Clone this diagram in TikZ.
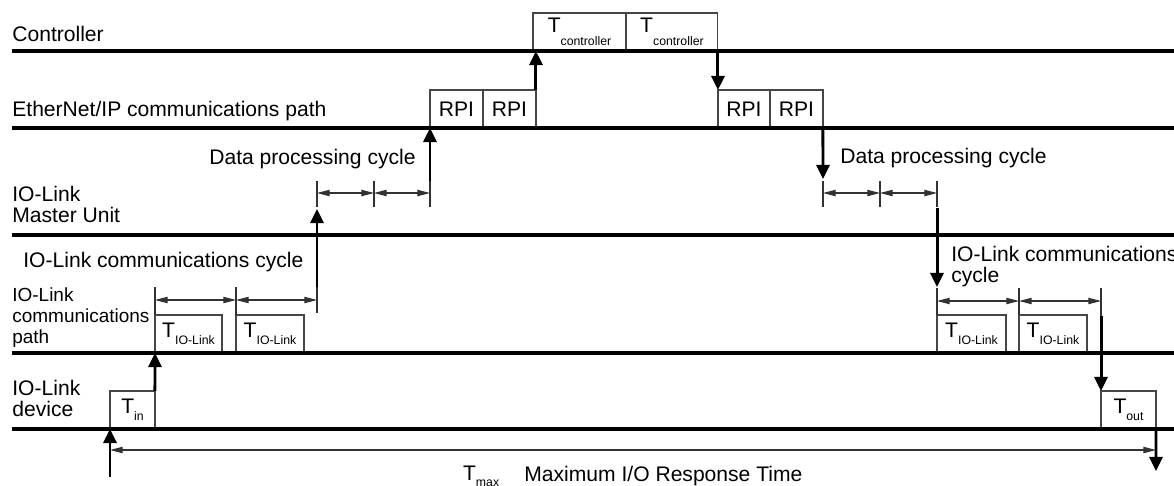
\documentclass[tikz,border=0pt]{standalone}
\usepackage{fontspec}
\setmainfont{Liberation Sans}
\usetikzlibrary{arrows.meta, positioning, calc}
\definecolor{laneBlack}{RGB}{0, 0, 0}
\definecolor{boxGray}{RGB}{70, 70, 70}
\definecolor{tickGray}{RGB}{50, 50, 50}
\newcommand{\Tsub}[2][3.8pt]{T\raisebox{-#1}{\fontsize{7}{8}\selectfont #2}}
\tikzset{
  lane/.style={
    line width=1.8pt, color=laneBlack
  },
  lanelabel/.style={
    anchor=base west, inner sep=0pt,
    align=left, font=\fontsize{12}{11.8}\selectfont
  },
  slot/.style={
    rectangle, draw=boxGray, line width=0.6pt,
    minimum height=0.76cm, inner sep=0pt, outer sep=0pt,
    anchor=south west, font=\fontsize{12}{14}\selectfont
  },
  flow/.style={
    -{Triangle[length=8pt,width=7.4pt]},
    line width=1.7pt
  },
  span/.style={
    {Triangle[length=7.2pt,width=3.6pt]}-{Triangle[length=7.2pt,width=3.6pt]},
    line width=0.6pt, color=tickGray
  },
  tick/.style={
    line width=0.6pt, color=tickGray
  }
}

\begin{document}
\begin{tikzpicture}[x=0.02cm, y=-0.02cm]
  \useasboundingbox (0,0) rectangle (1174,485);

  % ── Lane labels (base = last line) ────────────────────────────────────────
  \node[lanelabel] (labCtrl) at (12,41.7) {Controller};
  \node[lanelabel] (labEip) at (12,116) {EtherNet/IP communications path};
  \node[lanelabel] (labMaster) at (12,222.7) {IO-Link\\Master Unit};
  \node[lanelabel, font=\fontsize{10.8}{11.8}\selectfont] (labPath) at (12,343.3) {IO-Link\\communications\\path};
  \node[lanelabel] (labDevice) at (12,416.7) {IO-Link\\device};

  % ── Cycle labels ──────────────────────────────────────────────────────────
  \node[lanelabel] (labDpL) at (209,164) {Data processing cycle};
  \node[lanelabel] (labDpR) at (840,163.3) {Data processing cycle};
  \node[lanelabel] (labIolL) at (23,267.3) {IO-Link communications cycle};
  \node[lanelabel] (labIolR) at (951,282.7) {IO-Link communications\\cycle};
  \node[lanelabel] (labTmax) at (462.7,480) {\Tsub{max}};
  \node[lanelabel] (labResp) at (524,481.7) {Maximum I/O Response Time};

  % ── Time slots ────────────────────────────────────────────────────────────
  \node[slot, minimum width=1.86cm] (ctrlA) at (533,51) {\Tsub[7.6pt]{controller}};
  \node[slot, minimum width=1.84cm, right=0pt of ctrlA] (ctrlB) {\Tsub[7.6pt]{controller}};

  \node[slot, minimum width=1.06cm] (rpiA) at (430,128) {RPI};
  \node[slot, minimum width=1.06cm, right=0pt of rpiA] (rpiB) {RPI};
  \node[slot, minimum width=1.04cm] (rpiC) at (718,128) {RPI};
  \node[slot, minimum width=1.06cm, right=0pt of rpiC] (rpiD) {RPI};

  \node[slot, minimum width=1.34cm] (iolA) at (155,353) {\Tsub{IO-Link}};
  \node[slot, minimum width=1.36cm] (iolB) at (236,353) {\Tsub{IO-Link}};
  \node[slot, minimum width=1.38cm] (iolC) at (937,353) {\Tsub{IO-Link}};
  \node[slot, minimum width=1.36cm] (iolD) at (1019,353) {\Tsub{IO-Link}};

  \node[slot, minimum width=0.9cm] (tIn) at (110,429) {\Tsub{in}};
  \node[slot, minimum width=1.1cm] (tOut) at (1101,429) {\Tsub{out}};

  % ── Lanes ─────────────────────────────────────────────────────────────────
  \foreach \y in {51,128,235,353,429}{
    \draw[lane] (12,\y) -- (1174,\y);
  }

  % ── Timing points ─────────────────────────────────────────────────────────
  \coordinate (tStart) at (110,477);
  \coordinate (tEnd) at (1156,471);
  \coordinate (tMaxL) at (110,450);
  \coordinate (tMaxR) at (1156,450);

  \coordinate (iolL0) at (155,300);
  \coordinate (iolL1) at (236,300);
  \coordinate (iolL2) at (317,300);
  \coordinate (iolL2top) at (317,287);
  \coordinate (dpL0) at (317,193);
  \coordinate (dpL1) at (374,193);
  \coordinate (dpL2) at (430,193);
  \coordinate (dpL0bot) at (317,209);
  \coordinate (dpL2top) at (430,181);

  \coordinate (dpR0) at (823,193);
  \coordinate (dpR1) at (880,193);
  \coordinate (dpR2) at (937,193);
  \coordinate (dpR0top) at (823,179);
  \coordinate (dpR2bot) at (937,208);
  \coordinate (iolR0) at (937,301);
  \coordinate (iolR1) at (1019,301);
  \coordinate (iolR2) at (1101,301);
  \coordinate (iolR0top) at (937,287);
  \coordinate (iolR2bot) at (1101,316);

  % ── Ticks ─────────────────────────────────────────────────────────────────
  \draw[tick] (iolA.north west) -- ++(0,-28);
  \draw[tick] (iolB.north west) -- ++(0,-28);
  \draw[tick] (317,313) -- (317,287);
  \foreach \x in {317,374,430,823,880,937}{
    \draw[tick] (\x,181) -- (\x,207);
  }
  \draw[tick] (iolC.north west) -- ++(0,-27);
  \draw[tick] (iolD.north west) -- ++(0,-27);
  \draw[tick] (1101,316) -- (1101,288);

  % ── Cycle spans ───────────────────────────────────────────────────────────
  \draw[span] (iolL0) -- (iolL1);
  \draw[span] (iolL1) -- (iolL2);
  \draw[span] (dpL0) -- (dpL1);
  \draw[span] (dpL1) -- (dpL2);
  \draw[span] (dpR0) -- (dpR1);
  \draw[span] (dpR1) -- (dpR2);
  \draw[span] (iolR0) -- (iolR1);
  \draw[span] (iolR1) -- (iolR2);
  \draw[span] (tMaxL) -- (tMaxR);

  % ── Data flow ─────────────────────────────────────────────────────────────
  \draw[flow] (tStart) -- (tIn.south west);
  \draw[flow] (tIn.north east) -- (iolA.south west);
  \draw[flow] (iolL2top) -- (dpL0bot);
  \draw[flow] (dpL2top) -- (rpiA.south west);
  \draw[flow] (rpiB.north east) -- (rpiB.north east |- ctrlA.south);
  \draw[flow] (ctrlB.south east) -- (ctrlB.south east |- rpiC.north);
  \draw[flow] (rpiD.south east) -- (dpR0top);
  \draw[flow] (dpR2bot) -- (iolR0top);
  \draw[flow] (iolR2bot) -- (tOut.north west);
  \draw[flow] (tOut.south east) -- (tEnd);

\end{tikzpicture}
\end{document}
